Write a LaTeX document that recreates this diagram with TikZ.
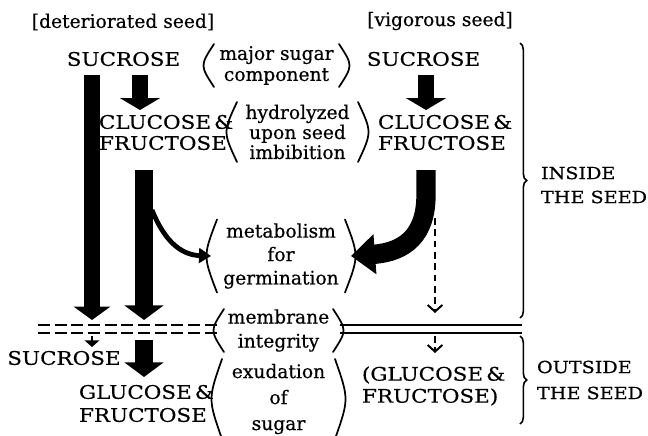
\documentclass[tikz,border=0pt]{standalone}
\usepackage{fontspec}
\setmainfont{DejaVu Serif}[FakeBold=0.5]
\newfontfamily\capsfont{DejaVu Serif}[FakeStretch=1.15,FakeBold=0.5]
\usetikzlibrary{arrows.meta,decorations.pathreplacing,calc}
\newcommand\myparens[2]{%
  \draw[parenline] (#1.north west) .. controls ($(#1.west)+(-#2,0)$) .. (#1.south west);
  \draw[parenline] (#1.north east) .. controls ($(#1.east)+(#2,0)$) .. (#1.south east);
}
\begin{document}
\begin{tikzpicture}[x=0.75pt,y=-0.75pt,
  every node/.style={inner sep=0pt, outer sep=0pt},
  fs/.style={font=\fontsize{14}{#1}\selectfont},
  cfs/.style={font=\capsfont\fontsize{14}{#1}\selectfont},
  sfs/.style={font=\capsfont\fontsize{12.5}{#1}\selectfont},
  ctext/.style={cfs=#1, align=center},
  ltext/.style={cfs=#1, align=left, anchor=west},
  pgroup/.style={align=center},
  parenline/.style={line width=1.3pt, line cap=round},
  fatarrow/.style={line width=#1, draw=black},
  dashline/.style={line width=1.5pt, dash pattern=on 5pt off 3.5pt},
  membraneline/.style={line width=1.2pt},
  bracestyle/.style={line width=1.2pt, decorate, decoration={brace, amplitude=5pt}}
]
\useasboundingbox (0,0) rectangle (648,435);

% headers
\node[fs=16, align=center] (hdrL) at (123,22) {[deteriorated seed]};
\node[fs=16, align=center] (hdrR) at (440,21) {[vigorous seed]};

% top row
\node[ctext=15.75] (sucL) at (123.5,59) {SUCROSE};
\node[ctext=15.75] (sucR) at (423.5,59) {SUCROSE};
\node[pgroup, fs=15.75, minimum width=93.75pt, minimum height=32.25pt] (maj) at (276.5,65.5) {major sugar\\component};
\myparens{maj}{14}

% glucose row
\node[ltext=15.75] (glL) at (99,132.5) {CLUCOSE\,\&\\FRUCTOSE};
\node[ltext=15.75] (glR) at (378,132.5) {CLUCOSE\,\&\\FRUCTOSE};
\node[pgroup, fs=15, minimum width=90.75pt, minimum height=45pt] (hyd) at (297.5,132) {hydrolyzed\\upon seed\\imbibition};
\myparens{hyd}{14}

% metabolism
\node[pgroup, fs=17.6, minimum width=96pt, minimum height=54.75pt] (met) at (281,256) {metabolism\\for\\germination};
\myparens{met}{14}

% membrane
\node[pgroup, fs=18, minimum width=81.75pt, minimum height=32.25pt] (mem) at (278.5,330.5) {membrane\\integrity};
\myparens{mem}{14}

% outside texts
\node[ctext=15.75] (sucLow) at (64,358) {SUCROSE};
\node[ltext=17.25] (glLow) at (79,403.5) {GLUCOSE\,\&\\FRUCTOSE};
\node[ltext=16.5] (glRLow) at (362,386) {(GLUCOSE\,\&\\FRUCTOSE)};
\node[pgroup, fs=19.5, minimum width=84.75pt, minimum height=60pt] (exu) at (278.5,399) {exudation\\of\\sugar};
\myparens{exu}{14}

% side labels
\node[sfs=18, align=left, anchor=west] (inside) at (541,185) {INSIDE\\THE SEED};
\node[sfs=19.5, align=left, anchor=west] (outside) at (537,380) {OUTSIDE\\THE SEED};

% coordinates
\coordinate (saLtop) at (140,75);
\coordinate (saLend) at (140,110);
\coordinate (saRtop) at (426,75);
\coordinate (saRend) at (426,110);
\coordinate (b1top) at (92,75);
\coordinate (b1end) at (92,320);
\coordinate (b2top) at (144,170);
\coordinate (b2end) at (144,320);
\coordinate (b2side) at (152,210);
\coordinate (rctop) at (426,170);
\coordinate (rcbend) at (426,195);
\coordinate (dtop) at (435,218);
\coordinate (dmid) at (435,313);
\coordinate (dlow) at (435,336);
\coordinate (dend) at (435,353);
\coordinate (tinytop) at (92,336);
\coordinate (tinyend) at (92,347);
\coordinate (b3top) at (144,340);
\coordinate (b3end) at (144,377);
\coordinate (mlA) at (38,325);
\coordinate (mlB) at (38,333);
\coordinate (mrA) at (522,325);
\coordinate (mrB) at (522,333);
\coordinate (memL) at ($(mem.west)+(-7,0)$);
\coordinate (memR) at ($(mem.east)+(7,0)$);

% short arrows sucrose -> glucose
\draw[fatarrow=12pt, -{Triangle[length=9pt,width=30pt]}] (saLtop) -- (saLend);
\draw[fatarrow=12pt, -{Triangle[length=9pt,width=30pt]}] (saRtop) -- (saRend);

% long bars (deteriorated seed)
\draw[fatarrow=11.5pt, -{Triangle[length=10pt,width=27pt]}] (b1top) -- (b1end);
\draw[fatarrow=13.5pt, -{Triangle[length=11pt,width=29pt]}] (b2top) -- (b2end);

% curved arrows to metabolism
\draw[line width=3.6pt, -{Triangle[length=9pt,width=11pt]}] (b2side) .. controls (166,245) and (184,255) .. ($(met.west)+(-6,0)$);
\draw[fatarrow=14.5pt, -{Triangle[length=18pt,width=29pt]}] (rctop) -- (rcbend) .. controls (426,235) and (405,252) .. ($(met.east)+(6,0)$);

% dashed arrows (vigorous)
\draw[dashline, -{Straight Barb[length=5pt,width=11pt]}] (dtop) -- (dmid);
\draw[dashline, -{Straight Barb[length=5pt,width=11pt]}] (dlow) -- (dend);

% membrane lines
\draw[membraneline, dash pattern=on 9pt off 3.5pt] (mlA) -- (mlA -| memL);
\draw[membraneline, dash pattern=on 9pt off 3.5pt] (mlB) -- (mlB -| memL);
\draw[membraneline] (mrA -| memR) -- (mrA);
\draw[membraneline] (mrB -| memR) -- (mrB);

% arrows below membrane
\draw[line width=2pt, -{Triangle[length=5pt,width=11pt]}] (tinytop) -- (tinyend);
\draw[fatarrow=13.5pt, -{Triangle[length=11pt,width=29pt]}] (b3top) -- (b3end);

% braces
\draw[bracestyle] (520,43) -- (520,318);
\draw[bracestyle] (520,336) -- (520,424);
\end{tikzpicture}
\end{document}
